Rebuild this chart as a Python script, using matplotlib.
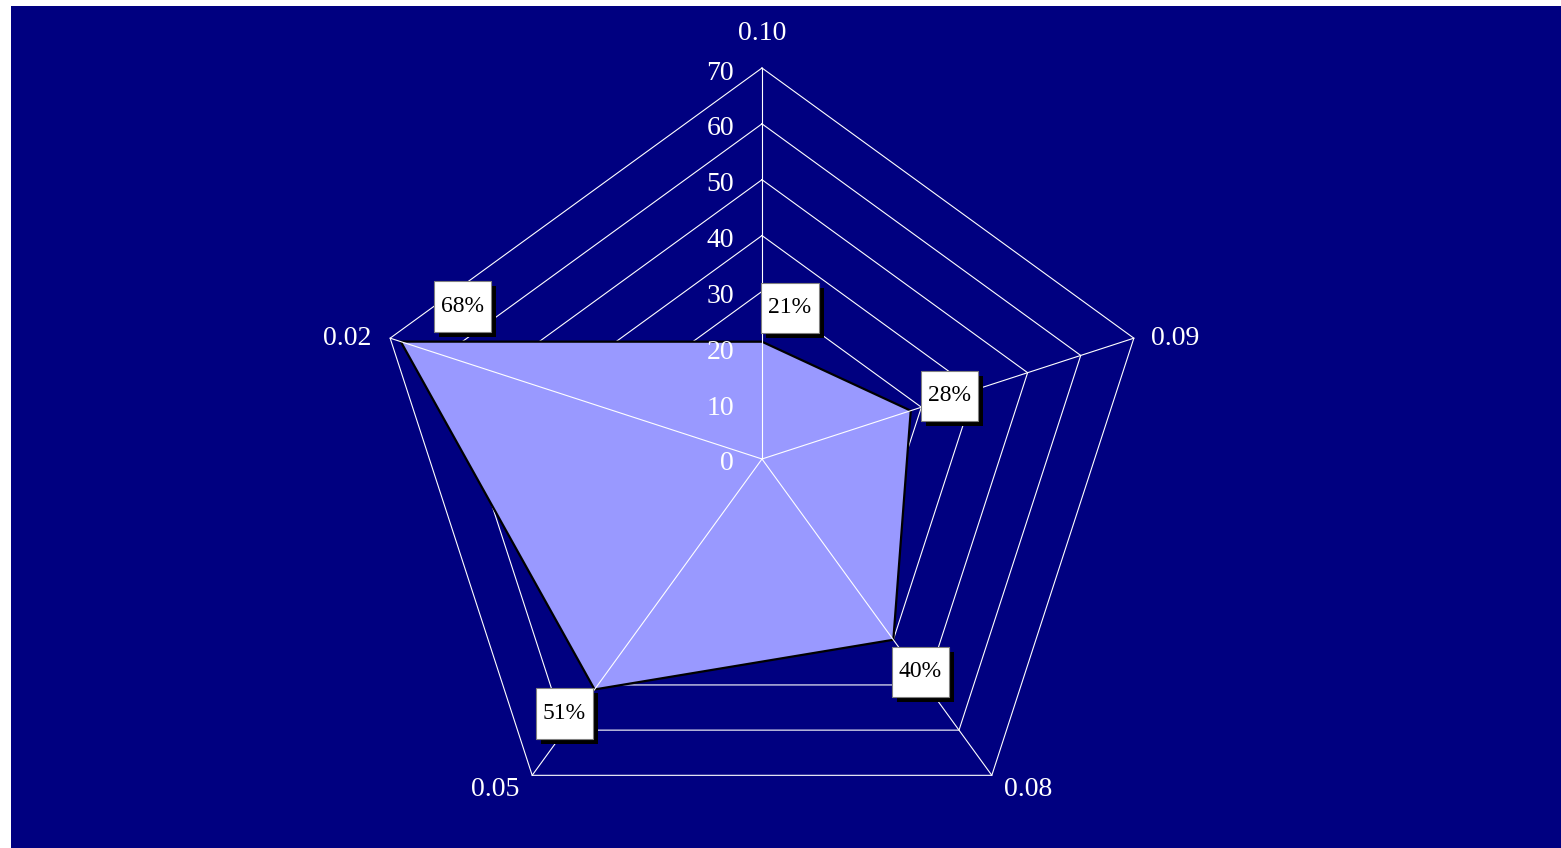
import numpy as np
import matplotlib
matplotlib.use("Agg")
import matplotlib.pyplot as plt
from matplotlib.patches import Rectangle
from matplotlib.path import Path
import matplotlib.patheffects as pe

categories = ["0.10", "0.09", "0.08", "0.05", "0.02"]
values = [21, 28, 40, 51, 68]
value_labels = ["21%", "28%", "40%", "51%", "68%"]
ring_ticks = [0, 10, 20, 30, 40, 50, 60, 70]

NAVY = "#000080"
FILL = "#9999FF"
plt.rcParams['font.family'] = ['Liberation Serif', 'DejaVu Serif']

W, H = 1561, 848
fig = plt.figure(figsize=(W / 100, H / 100), dpi=100)
fig.patch.set_facecolor("white")
fig.patches.append(Rectangle((11 / W, 0), 1 - 11 / W, (H - 6) / H,
                             transform=fig.transFigure, facecolor=NAVY,
                             edgecolor="none", zorder=-10))

cx, cy, R = 762, H - 459, 391
ax = fig.add_axes([(cx - R) / W, (cy - R) / H, 2 * R / W, 2 * R / H],
                  projection="polar")
ax.set_zorder(1)
ax.set_theta_offset(np.pi / 2)
ax.set_theta_direction(-1)
ax.set_ylim(0, 70)
ax.set_axis_off()

n = len(categories)
theta = np.arange(n) * 2 * np.pi / n
theta_c = np.append(theta, theta[0])

# rings (below fill)
for r in ring_ticks[1:]:
    ax.plot(theta_c, [r] * (n + 1), color="white", lw=0.8, zorder=1,
            clip_on=False)

# data polygon
vals_c = np.append(values, values[0])
ax.fill(theta_c, vals_c, facecolor=FILL, edgecolor="black", lw=1.6,
        zorder=2, clip_on=False)

# spokes (above fill)
for t in theta:
    ax.plot([t, t], [0, ring_ticks[-1]], color="white", lw=0.8, zorder=3,
            clip_on=False)

# radial tick labels
for r in ring_ticks:
    ax.annotate(str(r), xy=(0, r), xytext=(-28, -5), textcoords="offset pixels",
                ha="right", va="center", color="white", fontsize=20, zorder=4,
                annotation_clip=False)

# category labels
cat_offsets = [(0, 35), (41, 0), (36, -14), (-37, -14), (-43, 0)]
for t, c, (dx, dy) in zip(theta, categories, cat_offsets):
    ax.annotate(c, xy=(t, ring_ticks[-1]), xytext=(dx, dy),
                textcoords="offset pixels", ha="center", va="center",
                color="white", fontsize=20, zorder=4, annotation_clip=False)


def tallbox(x0, y0, width, height, mutation_size):
    padx = 0.3 * mutation_size
    pady = 0.62 * mutation_size
    x0, y0 = x0 - padx, y0 - pady
    x1, y1 = x0 + width + 2 * padx, y0 + height + 2 * pady
    return Path([(x0, y0), (x1, y0), (x1, y1), (x0, y1), (x0, y0)],
                closed=True)


# value labels with shadow boxes
offsets = [(28, 34), (39, 15), (27, -32), (-30, -24), (62, 35)]
for t, v, lab, (dx, dy) in zip(theta, values, value_labels, offsets):
    ann = ax.annotate(lab, xy=(t, v), xytext=(dx, dy),
                      textcoords="offset pixels", ha="center", va="center",
                      color="black", fontsize=17, zorder=6,
                      annotation_clip=False,
                      bbox=dict(boxstyle=tallbox, facecolor="white",
                                edgecolor="#808080", lw=0.8))
    ann.get_bbox_patch().set_path_effects([
        pe.SimplePatchShadow(offset=(3.6, -3.6), shadow_rgbFace="black",
                             alpha=1.0),
        pe.Normal()])

fig.savefig("out.png", dpi=100, facecolor=fig.get_facecolor())
